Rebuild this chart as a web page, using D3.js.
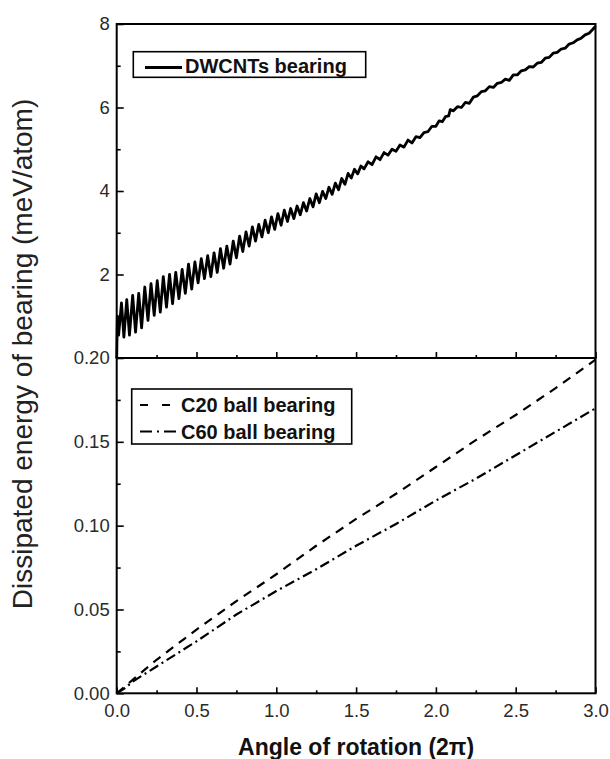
<!DOCTYPE html>
<html>
<head>
<meta charset="utf-8">
<script src="https://cdn.jsdelivr.net/npm/d3@7"></script>
<style>
  html, body { margin: 0; padding: 0; background: #fff; }
  svg { display: block; }
  text { font-family: "Liberation Sans", Arial, sans-serif; }
</style>
</head>
<body>
<svg id="chart" width="610" height="759"></svg>
<script>
// ---------- data ----------
const xTickValues = [0.0, 0.5, 1.0, 1.5, 2.0, 2.5, 3.0];
const xMinorTicks = [0.25, 0.75, 1.25, 1.75, 2.25, 2.75];
const topYTicks = [2, 4, 6, 8];
const topYMinor = [1, 3, 5, 7];
const botYTicks = [0.00, 0.05, 0.10, 0.15, 0.20];
const botYMinor = [0.025, 0.075, 0.125, 0.175];

const seriesTop = "DWCNTs bearing";
const seriesC20 = "C20 ball bearing";
const seriesC60 = "C60 ball bearing";

// DWCNTs bearing: [rotation (2π), energy (meV/atom)]
const dwcnt = [
  [0.000,0.00],[0.004,1.00],[0.012,0.55],[0.030,1.32],[0.045,0.50],[0.063,1.40],[0.080,0.55],
  [0.100,1.50],[0.118,0.62],[0.138,1.55],[0.156,0.72],[0.176,1.70],[0.196,0.90],[0.215,1.78],
  [0.235,1.02],[0.254,1.85],[0.273,1.10],[0.292,1.95],[0.312,1.22],[0.331,2.00],[0.350,1.30],
  [0.370,2.05],[0.390,1.42],[0.410,2.12],[0.430,1.55],[0.450,2.25],[0.470,1.65],[0.490,2.30],
  [0.510,1.80],[0.530,2.38],[0.550,1.90],[0.570,2.45],[0.590,1.95],[0.610,2.52],[0.630,2.05],
  [0.650,2.62],[0.670,2.15],[0.690,2.68],[0.710,2.25],[0.730,2.80],[0.750,2.40],[0.770,2.92],
  [0.790,2.55],[0.810,3.02],[0.830,2.68],[0.850,3.14],[0.870,2.80],[0.890,3.20],[0.910,2.90],
  [0.930,3.30],[0.950,3.00],[0.970,3.38],[0.990,3.08],[1.010,3.46],[1.030,3.18],[1.050,3.54],
  [1.070,3.27],[1.090,3.58],[1.110,3.34],[1.130,3.64],[1.150,3.43],[1.170,3.72],[1.190,3.52],
  [1.210,3.82],[1.230,3.62],[1.250,3.93],[1.270,3.72],[1.290,3.99],[1.310,3.82],[1.330,4.09],
  [1.350,3.92],[1.370,4.19],[1.390,4.03],[1.410,4.30],[1.430,4.16],[1.450,4.42],[1.470,4.31],
  [1.490,4.52],[1.510,4.41],[1.530,4.60],[1.550,4.53],[1.575,4.70],[1.600,4.63],[1.625,4.82],
  [1.650,4.75],[1.675,4.92],[1.700,4.86],[1.725,5.00],[1.750,4.95],[1.775,5.10],[1.800,5.05],
  [1.825,5.22],[1.850,5.15],[1.875,5.30],[1.900,5.28],[1.925,5.40],[1.950,5.42],[1.975,5.55],
  [2.000,5.55],[2.020,5.68],[2.040,5.66],[2.060,5.78],[2.080,5.80],[2.090,5.95],[2.110,5.92],
  [2.135,6.02],[2.160,6.00],[2.185,6.12],[2.210,6.10],[2.235,6.25],[2.260,6.28],[2.285,6.38],
  [2.310,6.40],[2.335,6.50],[2.360,6.48],[2.385,6.58],[2.410,6.60],[2.435,6.68],[2.460,6.65],
  [2.485,6.78],[2.510,6.78],[2.535,6.88],[2.560,6.90],[2.585,6.98],[2.610,6.97],[2.635,7.06],
  [2.660,7.08],[2.685,7.18],[2.710,7.20],[2.735,7.30],[2.760,7.32],[2.785,7.40],[2.810,7.42],
  [2.835,7.52],[2.860,7.55],[2.885,7.62],[2.910,7.66],[2.935,7.74],[2.960,7.78],[2.985,7.88],
  [3.000,7.95]
];

// C20 / C60 ball bearings: [rotation (2π), energy (meV/atom)]
const c20 = [
  [0.00,0.000],[0.05,0.004],[0.10,0.008],[0.25,0.020],[0.50,0.038],[0.75,0.055],[1.00,0.071],
  [1.25,0.088],[1.50,0.104],[1.75,0.119],[2.00,0.135],[2.25,0.151],[2.50,0.166],[2.75,0.182],
  [3.00,0.199]
];
const c60 = [
  [0.00,0.000],[0.05,0.003],[0.10,0.007],[0.25,0.016],[0.50,0.031],[0.75,0.047],[1.00,0.061],
  [1.25,0.074],[1.50,0.088],[1.75,0.101],[2.00,0.115],[2.25,0.128],[2.50,0.142],[2.75,0.156],
  [3.00,0.170]
];

// ---------- layout ----------
const L = 116.7, R = 595.5, T = 24, M = 358, B = 693.3;
const font = '"Liberation Sans", Arial, sans-serif';
const svg = d3.select("#chart");

const x = d3.scaleLinear().domain([0, 3]).range([L, R]);
const yTop = d3.scaleLinear().domain([0, 8]).range([M, T]);
const yBot = d3.scaleLinear().domain([0, 0.2]).range([B, M]);

function styleAxis(g, size) {
  g.select(".domain").remove();
  g.selectAll(".tick line").attr("stroke", "#000").attr("stroke-width", 1.6);
  g.selectAll(".tick text").attr("fill", "#2a2a2a").style("font-size", size + "px").style("font-family", font);
}

// ---- top panel axes ----
svg.append("g").attr("transform", `translate(${L},0)`)
  .call(d3.axisLeft(yTop).tickValues(topYTicks).tickSizeInner(-7).tickSizeOuter(0).tickPadding(7).tickFormat(d3.format("d")))
  .call(g => styleAxis(g, 18.5));
svg.append("g").attr("transform", `translate(${L},0)`)
  .call(d3.axisLeft(yTop).tickValues(topYMinor).tickSizeInner(-4).tickSizeOuter(0).tickFormat(""))
  .call(g => styleAxis(g, 18.5));
svg.append("g").attr("transform", `translate(0,${M})`)
  .call(d3.axisBottom(x).tickValues(xTickValues).tickSizeInner(-6).tickSizeOuter(0).tickFormat(""))
  .call(g => styleAxis(g, 18.5));
svg.append("g").attr("transform", `translate(0,${M})`)
  .call(d3.axisBottom(x).tickValues(xMinorTicks).tickSizeInner(-3).tickSizeOuter(0).tickFormat(""))
  .call(g => styleAxis(g, 18.5));

// ---- bottom panel axes ----
svg.append("g").attr("transform", `translate(${L},0)`)
  .call(d3.axisLeft(yBot).tickValues(botYTicks).tickSizeInner(-7).tickSizeOuter(0).tickPadding(7).tickFormat(d3.format(".2f")))
  .call(g => styleAxis(g, 18.5));
svg.append("g").attr("transform", `translate(${L},0)`)
  .call(d3.axisLeft(yBot).tickValues(botYMinor).tickSizeInner(-4).tickSizeOuter(0).tickFormat(""))
  .call(g => styleAxis(g, 18.5));
svg.append("g").attr("transform", `translate(0,${B})`)
  .call(d3.axisBottom(x).tickValues(xTickValues).tickSizeInner(-6).tickSizeOuter(0).tickPadding(11).tickFormat(d3.format(".1f")))
  .call(g => styleAxis(g, 18.5));
svg.append("g").attr("transform", `translate(0,${B})`)
  .call(d3.axisBottom(x).tickValues(xMinorTicks).tickSizeInner(-3).tickSizeOuter(0).tickFormat(""))
  .call(g => styleAxis(g, 18.5));

// ---- data lines ----
svg.append("path").datum(dwcnt)
  .attr("d", d3.line().x(d => x(d[0])).y(d => yTop(d[1])))
  .attr("fill", "none").attr("stroke", "#000").attr("stroke-width", 2.8).attr("stroke-linejoin", "round");

svg.append("path").datum(c20)
  .attr("d", d3.line().x(d => x(d[0])).y(d => yBot(d[1])))
  .attr("fill", "none").attr("stroke", "#000").attr("stroke-width", 2.2).attr("stroke-dasharray", "9,7");
svg.append("path").datum(c60)
  .attr("d", d3.line().x(d => x(d[0])).y(d => yBot(d[1])))
  .attr("fill", "none").attr("stroke", "#000").attr("stroke-width", 2.2).attr("stroke-dasharray", "10,4,2,4");

// ---- panel frames ----
svg.append("rect").attr("x", L).attr("y", T).attr("width", R - L).attr("height", M - T)
  .attr("fill", "none").attr("stroke", "#000").attr("stroke-width", 2);
svg.append("rect").attr("x", L).attr("y", M).attr("width", R - L).attr("height", B - M)
  .attr("fill", "none").attr("stroke", "#000").attr("stroke-width", 2);

// ---- legends ----
svg.append("rect").attr("x", 133.3).attr("y", 51.7).attr("width", 232.4).attr("height", 25.6)
  .attr("fill", "#fff").attr("stroke", "#000").attr("stroke-width", 1.6);
svg.append("line").attr("x1", 145).attr("x2", 182).attr("y1", 67.5).attr("y2", 67.5)
  .attr("stroke", "#000").attr("stroke-width", 2.8);
svg.append("text").attr("x", 185).attr("y", 72.5).text(seriesTop)
  .style("font-size", "20px").style("font-weight", "bold").attr("fill", "#111");

svg.append("rect").attr("x", 131.7).attr("y", 389).attr("width", 220).attr("height", 55)
  .attr("fill", "#fff").attr("stroke", "#000").attr("stroke-width", 1.6);
svg.append("line").attr("x1", 140).attr("x2", 178).attr("y1", 405).attr("y2", 405)
  .attr("stroke", "#000").attr("stroke-width", 2.2).attr("stroke-dasharray", "8,14");
svg.append("text").attr("x", 181).attr("y", 412).text(seriesC20)
  .style("font-size", "20px").style("font-weight", "bold").attr("fill", "#111");
svg.append("line").attr("x1", 140).attr("x2", 178).attr("y1", 431.5).attr("y2", 431.5)
  .attr("stroke", "#000").attr("stroke-width", 2.2).attr("stroke-dasharray", "12,5,2,5");
svg.append("text").attr("x", 181).attr("y", 438.5).text(seriesC60)
  .style("font-size", "20px").style("font-weight", "bold").attr("fill", "#111");

// ---- axis titles ----
svg.append("text").attr("x", (L + R) / 2).attr("y", 755).attr("text-anchor", "middle")
  .text("Angle of rotation (2π)")
  .style("font-size", "23px").style("font-weight", "bold").attr("fill", "#111");
svg.append("text").attr("transform", `translate(32,354) rotate(-90)`).attr("text-anchor", "middle")
  .text("Dissipated energy of bearing (meV/atom)")
  .style("font-size", "28px").attr("fill", "#222");
</script>
</body>
</html>
